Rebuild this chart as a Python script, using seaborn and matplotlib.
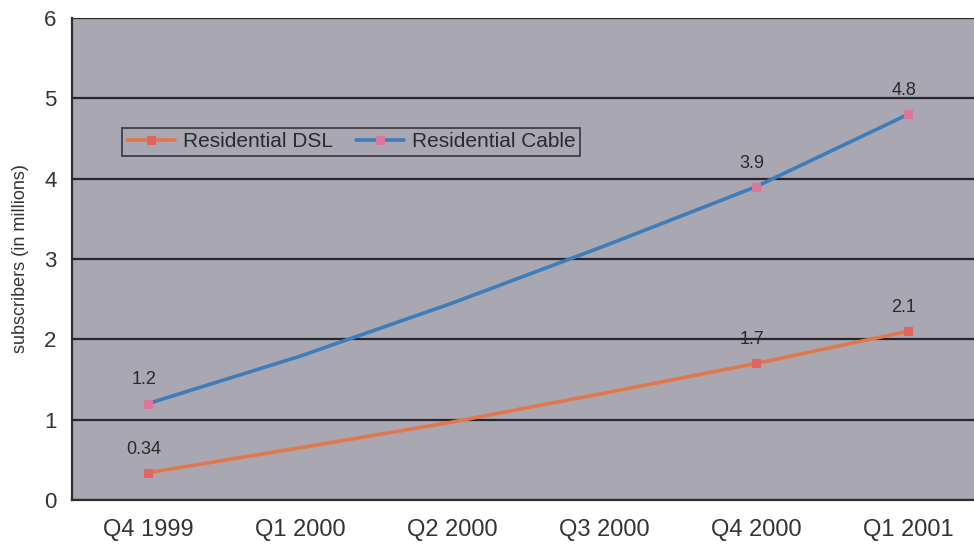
import matplotlib
matplotlib.use("Agg")
import matplotlib.pyplot as plt
import numpy as np
import pandas as pd
import seaborn as sns

# Quarterly subscriber counts (millions)
quarters = ["Q4 1999", "Q1 2000", "Q2 2000", "Q3 2000", "Q4 2000", "Q1 2001"]
dsl_values = [0.34, 0.65, 0.97, 1.33, 1.7, 2.1]
cable_values = [1.2, 1.79, 2.45, 3.16, 3.9, 4.8]
# Quarters that carry a marker and a value label
labeled_quarters = ["Q4 1999", "Q4 2000", "Q1 2001"]
series_names = ["Residential DSL", "Residential Cable"]
y_ticks = [0, 1, 2, 3, 4, 5, 6]

sns.set_style("white")
plt.rcParams["font.family"] = ["Liberation Sans", "DejaVu Sans"]

frames = []
for name, vals in zip(series_names, [dsl_values, cable_values]):
    frames.append(pd.DataFrame({
        "pos": np.arange(len(quarters)),
        "quarter": quarters,
        "value": vals,
        "series": name,
    }))
df = pd.concat(frames, ignore_index=True)

fig = plt.figure(figsize=(9.74, 5.54), dpi=100)
ax = fig.add_axes([72 / 974, 1 - 500 / 554, 912 / 974, 482 / 554])
ax.set_facecolor("#a9a7b1")

styles = {
    "Residential DSL": dict(color="#e0784e", marker="s", mfc="#e06464"),
    "Residential Cable": dict(color="#3f7cba", marker="s", mfc="#d9789a"),
}
mark_idx = [quarters.index(q) for q in labeled_quarters]

for name in series_names:
    sub = df[df["series"] == name]
    st = styles[name]
    sns.lineplot(data=sub, x="pos", y="value", ax=ax, color=st["color"],
                 linewidth=2.6, marker=st["marker"], markersize=6,
                 markevery=mark_idx,
                 markerfacecolor=st["mfc"], markeredgecolor=st["mfc"],
                 label=name, legend=False, zorder=3)
    for _, row in sub[sub["quarter"].isin(labeled_quarters)].iterrows():
        ax.annotate(f"{row['value']:g}", (row["pos"], row["value"]),
                    xytext=(-3, 17), textcoords="offset points",
                    ha="center", va="center", fontsize=13, color="#2a2a2a",
                    zorder=4)

# Axis limits, gridlines and category ticks between the quarters
ax.set_xlim(-0.5, len(quarters) - 0.5)
ax.set_ylim(0, 6)
ax.set_yticks(y_ticks)
ax.set_yticklabels([str(t) for t in y_ticks], fontsize=16, color="#333333")
ax.yaxis.grid(True, color="#26262c", linewidth=1.6, zorder=1)
ax.set_axisbelow(True)

ax.set_xticks(np.arange(-0.5, len(quarters) + 0.5, 1.0))
ax.set_xticklabels([])
ax.set_xticks(np.arange(len(quarters)), minor=True)
ax.set_xticklabels(quarters, minor=True, fontsize=17, color="#333333")
ax.tick_params(axis="x", which="major", length=7, width=1.4, color="#333333",
               direction="out")
ax.tick_params(axis="x", which="minor", length=0, pad=14)
ax.tick_params(axis="y", length=7, width=1.4, color="#333333", direction="out",
               pad=4)

for side in ["top", "right"]:
    ax.spines[side].set_visible(False)
for side in ["left", "bottom"]:
    ax.spines[side].set_color("#2e2e34")
    ax.spines[side].set_linewidth(1.6)

ax.set_xlabel("")
ax.set_ylabel("subscribers (in millions)", fontsize=13, color="#333333",
              labelpad=11)

leg = ax.legend(loc="upper left", bbox_to_anchor=(0.055, 0.772), ncol=2,
                fontsize=15, frameon=True, fancybox=False, borderaxespad=0,
                handlelength=2.3, handletextpad=0.4, columnspacing=1.1,
                borderpad=0.22)
leg.get_frame().set_facecolor("#a9a7b1")
leg.get_frame().set_edgecolor("#2e2e34")
leg.get_frame().set_linewidth(1.4)
for txt in leg.get_texts():
    txt.set_color("#2a2a2a")

fig.savefig("out.png", dpi=100, facecolor="white")
